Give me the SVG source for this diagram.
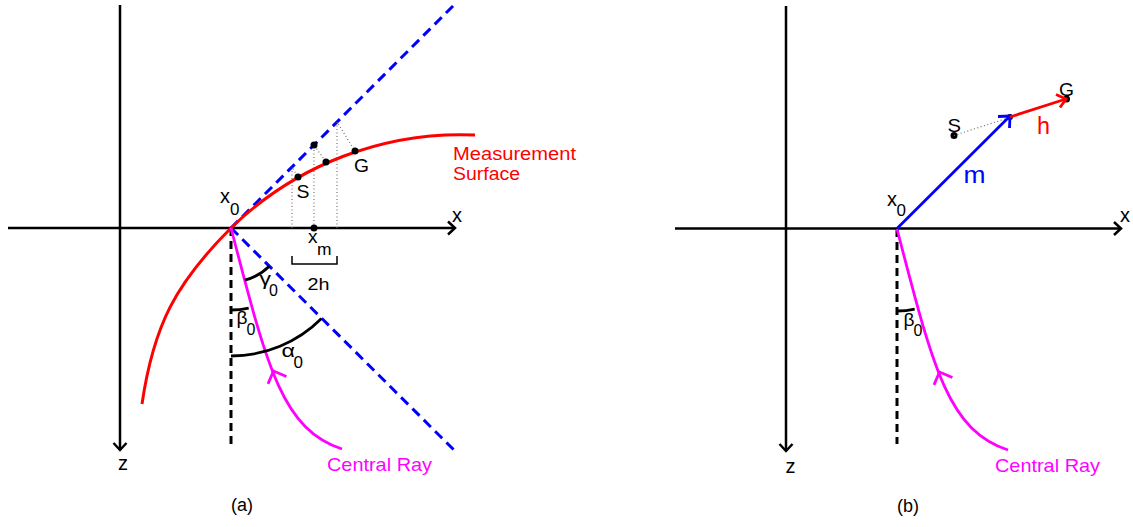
<svg xmlns="http://www.w3.org/2000/svg" width="1133" height="527" viewBox="0 0 1133 527">
<style>
text{font-family:"Liberation Sans",Arial,Helvetica,sans-serif;fill:#000}
.ax{stroke:#000;stroke-width:2.5;fill:none}
.arw{stroke:#000;stroke-width:2.5;fill:none;stroke-linejoin:miter}
.vd{stroke:#000;stroke-width:3;stroke-dasharray:8 5;fill:none}
.bd{stroke:#0000ff;stroke-width:3;stroke-dasharray:10 6;fill:none}
.dot{stroke:#666;stroke-width:1.1;stroke-dasharray:1 2.5;fill:none}
.red{stroke:#ff0000;stroke-width:3;fill:none}
.mag{stroke:#ff00ff;stroke-width:2.8;fill:none}
.arc{stroke:#000;stroke-width:2.8;fill:none}
.pt{fill:#000}
.t20{font-size:20px}
.t19{font-size:19px}
.t18{font-size:18px}
.sub{font-size:17px}
</style>
<rect width="1133" height="527" fill="#fff"/>

<!-- ================= Panel (a) ================= -->
<g id="panel-a">
  <g id="a-axes">
    <path class="ax" d="M8 228 H455"/>
    <path class="arw" d="M448 221.5 L455 228 L448 234.5"/>
    <path class="ax" d="M120 5 V450"/>
    <path class="arw" d="M113.5 443 L120 450 L126.5 443"/>
    <text class="t20" x="452" y="222">x</text>
    <text class="t20" x="118" y="470">z</text>
  </g>
  <g id="a-connectors">
    <path class="bd" d="M231 228 L454 5"/>
    <path class="bd" d="M231 228 L454 450"/>
    <path class="vd" d="M231 228 V445"/>
    <path class="dot" d="M292 228 V167 L298 177"/>
    <path class="dot" d="M314 228 V145 L326 162"/>
    <path class="dot" d="M337 228 V122 L355 151"/>
    <path class="ax" style="stroke-width:1.5" d="M292 256 V264 H337 V256"/>
  </g>
  <g id="a-surface">
    <path class="red" d="M142 404 C153.6 324.8 176 283 231 228 A329 329 0 0 1 475 135"/>
    <text x="453" y="160" style="font-size:17.5px;fill:#ff0000" textLength="123" lengthAdjust="spacingAndGlyphs">Measurement</text>
    <text x="453" y="180" style="font-size:17.5px;fill:#ff0000" textLength="67" lengthAdjust="spacingAndGlyphs">Surface</text>
  </g>
  <g id="a-points">
    <circle class="pt" cx="298" cy="177" r="3.5"/>
    <circle class="pt" cx="326" cy="162" r="3.5"/>
    <circle class="pt" cx="355" cy="151" r="3.5"/>
    <circle class="pt" cx="314" cy="145" r="3.5"/>
    <circle class="pt" cx="314" cy="228" r="3.5"/>
    <text class="t19" x="296.5" y="197.5" textLength="13" lengthAdjust="spacingAndGlyphs">S</text>
    <text class="t19" x="354" y="171.5" textLength="15" lengthAdjust="spacingAndGlyphs">G</text>
    <text class="t20" x="220" y="203">x</text>
    <text class="sub" x="230" y="214.5">0</text>
    <text class="t19" x="308" y="243">x</text>
    <text class="sub" x="317" y="254.5" textLength="14.5" lengthAdjust="spacingAndGlyphs">m</text>
    <text style="font-size:16.5px" x="307.5" y="290" textLength="22" lengthAdjust="spacingAndGlyphs">2h</text>
  </g>
  <g id="a-ray">
    <path class="mag" d="M231 228 C267.4 368 282 429 342 449"/>
    <path class="mag" d="M286.4 376.5 L273.5 371 L268 383.9"/>
    <text x="327" y="471" style="font-size:19px;fill:#ff00ff" textLength="105" lengthAdjust="spacingAndGlyphs">Central Ray</text>
  </g>
  <g id="a-angles">
    <path class="arc" d="M244.8 280.2 A54 54 0 0 0 269.2 266.2"/>
    <path class="arc" d="M231 310 A82 82 0 0 0 248.7 308.1"/>
    <path class="arc" d="M231 356 A128 128 0 0 0 321.5 318.5"/>
    <text style="font-size:19px" x="259.5" y="285" textLength="11.5" lengthAdjust="spacingAndGlyphs">γ</text>
    <text style="font-size:16px" x="269" y="295.5">0</text>
    <text style="font-size:18px" x="236.5" y="324" textLength="11" lengthAdjust="spacingAndGlyphs">β</text>
    <text style="font-size:16px" x="246.5" y="334.5">0</text>
    <text style="font-size:19px" x="281.5" y="357" textLength="13.5" lengthAdjust="spacingAndGlyphs">α</text>
    <text class="sub" x="293.5" y="367.5">0</text>
  </g>
  <text class="t18" x="231" y="511">(a)</text>
</g>

<!-- ================= Panel (b) ================= -->
<g id="panel-b">
  <g id="b-axes">
    <path class="ax" d="M675 228.5 H1121"/>
    <path class="arw" d="M1114 222 L1121 228.5 L1114 235"/>
    <path class="ax" d="M786 6 V451"/>
    <path class="arw" d="M779.5 444 L786 451 L792.5 444"/>
    <text class="t20" x="1120" y="222">x</text>
    <text class="t20" x="785.5" y="473">z</text>
  </g>
  <g id="b-ray" transform="translate(666,1)">
    <path class="vd" d="M231 228 V443"/>
    <path class="mag" d="M231 228 C267.4 368 282 429 342 449"/>
    <path class="mag" d="M286.4 376.5 L273.5 371 L268 383.9"/>
    <path class="arc" d="M231 310 A82 82 0 0 0 248.7 308.1"/>
    <text style="font-size:18px" x="237.5" y="324.5" textLength="11" lengthAdjust="spacingAndGlyphs">β</text>
    <text style="font-size:16px" x="247.5" y="335">0</text>
  </g>
  <text x="995" y="472" style="font-size:19px;fill:#ff00ff" textLength="105" lengthAdjust="spacingAndGlyphs">Central Ray</text>
  <g id="b-points">
    <circle class="pt" cx="954" cy="135.5" r="3.5"/>
    <circle class="pt" cx="1010" cy="117" r="3"/>
    <circle class="pt" cx="1066.5" cy="99" r="3.5"/>
    <text class="t19" x="947.5" y="131.7" textLength="13.5" lengthAdjust="spacingAndGlyphs">S</text>
    <text class="t19" x="1059" y="95.7" textLength="15" lengthAdjust="spacingAndGlyphs">G</text>
    <text class="t20" x="887" y="205.5">x</text>
    <text class="sub" x="896.5" y="215.5">0</text>
  </g>
  <g id="b-connectors">
    <path class="dot" d="M954 135.5 L1008 118"/>
    <path stroke="#0000ff" stroke-width="2.8" fill="none" d="M897 228.5 L1010 116"/>
    <path stroke="#0000ff" stroke-width="2.8" fill="none" d="M998 116.5 L1010 116 L1009.5 128"/>
    <path stroke="#ff0000" stroke-width="2.8" fill="none" d="M1010 117 L1066 99"/>
    <path stroke="#ff0000" stroke-width="2.8" fill="none" d="M1056 94.5 L1066 99 L1060 107.5"/>
    <text x="963.5" y="182.7" style="font-size:24px;fill:#0000ff" textLength="22" lengthAdjust="spacingAndGlyphs">m</text>
    <text x="1037" y="134" style="font-size:23px;fill:#ff0000" textLength="13" lengthAdjust="spacingAndGlyphs">h</text>
  </g>
  <text class="t18" x="897" y="512">(b)</text>
</g>
</svg>
